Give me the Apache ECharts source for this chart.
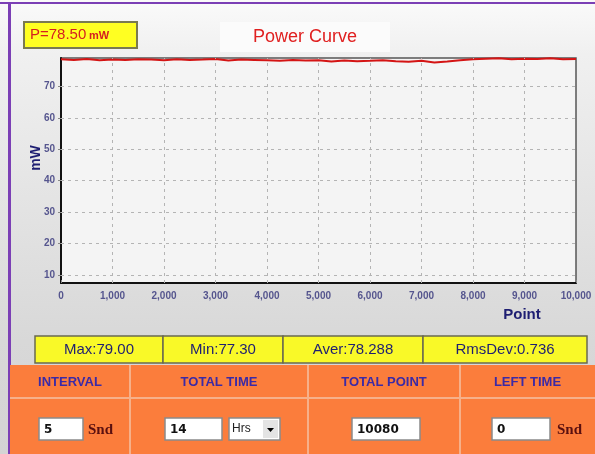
<!DOCTYPE html>
<html>
<head>
<meta charset="utf-8">
<script src="https://cdn.jsdelivr.net/npm/echarts@6/dist/echarts.min.js"></script>
<style>
  html, body { margin: 0; padding: 0; }
  #chart { width: 595px; height: 454px; }
</style>
</head>
<body>
<div id="chart"></div>
<script>
const pointIdx = [0, 250, 500, 750, 1000, 1250, 1500, 1750, 2000, 2250, 2500, 2750, 3000, 3250, 3500, 3750,
  4000, 4250, 4500, 4750, 5000, 5250, 5500, 5750, 6000, 6250, 6500, 6750, 7000, 7250, 7500, 7750,
  8000, 8250, 8500, 8750, 9000, 9250, 9500, 9750, 10000];
const powerVals = [78.6, 78.4, 78.7, 78.3, 78.5, 78.4, 78.6, 78.5, 78.3, 78.6, 78.4, 78.5, 78.7, 78.2, 78.5, 78.4,
  78.3, 78.1, 78.4, 78.2, 78.3, 77.9, 78.2, 78.0, 78.1, 78.3, 78.0, 77.8, 78.1, 77.6, 77.9, 78.3,
  78.6, 78.8, 78.9, 78.6, 78.8, 78.7, 78.9, 78.6, 78.7];
const yTicks = [10, 20, 30, 40, 50, 60, 70];
const xTicks = [1000, 2000, 3000, 4000, 5000, 6000, 7000, 8000, 9000];
const stats = ['Max:79.00', 'Min:77.30', 'Aver:78.288', 'RmsDev:0.736'];
const headers = ['INTERVAL', 'TOTAL TIME', 'TOTAL POINT', 'LEFT TIME'];

const chart = echarts.init(document.getElementById('chart'));

const fmt = v => v.toLocaleString('en-US');
const navy = '#1e1e72';
const hdrColor = '#3b2aa6';

// stat cells: [x, width]
const statCells = [[35, 128], [163, 120], [283, 140], [423, 164]];
const colEdges = [10, 130, 308, 460, 595];

const graphics = [
  // purple frame
  { type: 'rect', shape: { x: 0, y: 2, width: 595, height: 2 }, style: { fill: '#7b3fb5' } },
  { type: 'rect', shape: { x: 8, y: 2, width: 3, height: 452 }, style: { fill: '#7b3fb5' } },
  // P box
  { type: 'rect', shape: { x: 24, y: 22, width: 113, height: 26 }, style: { fill: '#ffff22', stroke: '#7a7a50', lineWidth: 2 } },
  { type: 'text', x: 30, y: 35, style: { text: 'P=78.50', fill: '#d42020', font: '15px "Liberation Sans", Arial', verticalAlign: 'middle' } },
  { type: 'text', x: 89, y: 36, style: { text: 'mW', fill: '#d42020', font: 'bold 11px "Liberation Sans", Arial', verticalAlign: 'middle' } },
  // title
  { type: 'rect', shape: { x: 220, y: 22, width: 170, height: 30 }, style: { fill: '#fbfbfb' } },
  { type: 'text', x: 305, y: 37, style: { text: 'Power Curve', fill: '#e02020', font: '18px "Liberation Sans", Arial', align: 'center', verticalAlign: 'middle' } },
  // axis names
  { type: 'text', x: 36, y: 158, rotation: Math.PI / 2, style: { text: 'mW', fill: navy, font: 'bold 14px "Liberation Sans", Arial', align: 'center', verticalAlign: 'middle' } },
  { type: 'text', x: 522, y: 315, style: { text: 'Point', fill: navy, font: 'bold 15px "Liberation Sans", Arial', align: 'center', verticalAlign: 'middle' } },
  // orange panel
  { type: 'rect', shape: { x: 10, y: 365, width: 585, height: 89 }, style: { fill: '#fb7d3c' } },
  { type: 'rect', shape: { x: 10, y: 397, width: 585, height: 2 }, style: { fill: '#f6b08a' } }
];

statCells.forEach((c, i) => {
  graphics.push({ type: 'rect', shape: { x: c[0], y: 336, width: c[1], height: 27 }, style: { fill: '#f9f928', stroke: '#6a6a50', lineWidth: 1.5 } });
  graphics.push({ type: 'text', x: c[0] + c[1] / 2, y: 350, style: { text: stats[i], fill: navy, font: '15px "Liberation Sans", Arial', align: 'center', verticalAlign: 'middle' } });
});

for (let i = 0; i < 4; i++) {
  if (i > 0) graphics.push({ type: 'rect', shape: { x: colEdges[i] - 1, y: 365, width: 2, height: 89 }, style: { fill: '#f6b08a' } });
  graphics.push({ type: 'text', x: (colEdges[i] + colEdges[i + 1]) / 2, y: 382, style: { text: headers[i], fill: hdrColor, font: 'bold 13px "Liberation Sans", Arial', align: 'center', verticalAlign: 'middle' } });
}

// input boxes: [x, width, text]
const inputs = [[39, 44, '5'], [165, 57, '14'], [352, 68, '10080'], [492, 58, '0']];
inputs.forEach(b => {
  graphics.push({ type: 'rect', shape: { x: b[0], y: 418, width: b[1], height: 22 }, style: { fill: '#ffffff', stroke: '#8a8a8a', lineWidth: 1.5 } });
  graphics.push({ type: 'text', x: b[0] + 5, y: 430, style: { text: b[2], fill: '#111', font: 'bold 12px "DejaVu Sans", Arial', verticalAlign: 'middle' } });
});
// Hrs combo
graphics.push({ type: 'rect', shape: { x: 229, y: 418, width: 51, height: 22 }, style: { fill: '#ffffff', stroke: '#8a8a8a', lineWidth: 1.5 } });
graphics.push({ type: 'text', x: 232, y: 429, style: { text: 'Hrs', fill: '#222', font: '12px "Liberation Sans", Arial', verticalAlign: 'middle' } });
graphics.push({ type: 'rect', shape: { x: 263, y: 420, width: 15, height: 18 }, style: { fill: '#e4e4e4' } });
graphics.push({ type: 'polygon', shape: { points: [[267, 428], [274, 428], [270.5, 432]] }, style: { fill: '#000' } });
// Snd labels
[[88, 'Snd'], [557, 'Snd']].forEach(s => {
  graphics.push({ type: 'text', x: s[0], y: 430, style: { text: s[1], fill: '#5a1010', font: 'bold 15px "Liberation Serif", "Times New Roman", serif', verticalAlign: 'middle' } });
});

const option = {
  backgroundColor: {
    type: 'linear', x: 0, y: 0, x2: 0, y2: 1,
    colorStops: [{ offset: 0, color: '#fafafa' }, { offset: 0.12, color: '#f0f0f0' }, { offset: 0.75, color: '#d8d8d8' }, { offset: 1, color: '#d4d4d4' }]
  },
  animation: false,
  grid: {
    left: 61, top: 58, right: 19, bottom: 171,
    show: true, backgroundColor: '#f4f4f4', borderColor: '#555', borderWidth: 1.5
  },
  xAxis: {
    type: 'value', min: 0, max: 10000, interval: 1000,
    axisLine: { show: true, onZero: false, lineStyle: { color: '#111', width: 2 } },
    axisTick: { show: true, length: 3, inside: true, lineStyle: { color: '#888' } },
    axisLabel: { color: '#55558e', fontSize: 10, fontWeight: 'bold', fontFamily: '"Liberation Sans", Arial', margin: 8, formatter: fmt },
    splitLine: { show: false }
  },
  yAxis: {
    type: 'value', min: 7.5, max: 79,
    axisLine: { show: true, onZero: false, lineStyle: { color: '#111', width: 2 } },
    axisTick: { show: true, length: 3, customValues: yTicks, lineStyle: { color: '#888' } },
    axisLabel: { color: '#55558e', fontSize: 10, fontWeight: 'bold', fontFamily: '"Liberation Sans", Arial', margin: 6, customValues: yTicks },
    splitLine: { show: false }
  },
  series: [{
    type: 'line',
    data: pointIdx.map((x, i) => [x, powerVals[i]]),
    showSymbol: false,
    lineStyle: { color: '#d41414', width: 2 },
    clip: true,
    z: 3,
    markLine: {
      silent: true, symbol: 'none', label: { show: false },
      lineStyle: { color: '#b4b4b4', type: [3, 4], width: 1 },
      data: yTicks.map(v => ({ yAxis: v })).concat(xTicks.map(v => ({ xAxis: v })))
    }
  }],
  graphic: graphics
};
chart.setOption(option);
</script>
</body>
</html>
